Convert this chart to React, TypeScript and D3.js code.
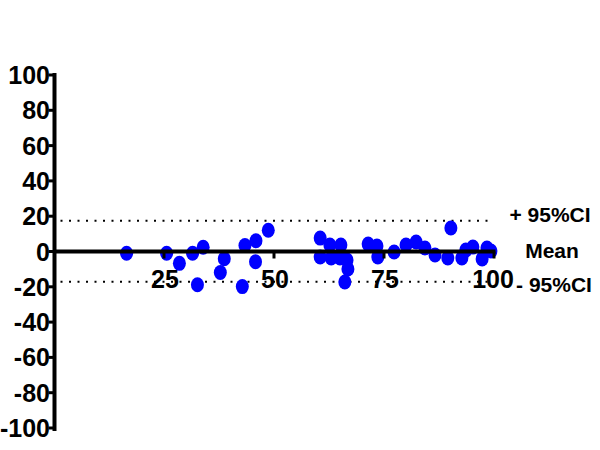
import React from 'react';
import * as d3 from 'd3';

// average of the two methods (x) and their difference (y)
const avgValues = [
  16.5, 25.6, 28.5, 31.5, 32.6, 33.9, 37.8, 38.7, 42.8, 43.4, 45.9, 45.8, 48.7,
  60.5, 60.5, 62.7, 63.0, 65.2, 65.0, 66.6, 66.8, 66.1,
  71.4, 73.4, 73.6, 77.3, 80.0, 82.3, 84.3, 86.6, 89.5, 90.2, 92.7, 93.6, 95.2, 97.3, 98.4, 99.3,
];
const diffValues = [
  -1.0, -1.0, -6.7, -1.0, -18.8, 2.4, -11.9, -4.1, -19.9, 3.4, 6.1, -5.8, 12.0,
  7.6, -3.1, 3.7, -3.7, 3.7, -3.7, -4.8, -9.9, -17.3,
  4.2, 3.1, -3.1, -0.3, 3.7, 5.4, 2.0, -2.0, -3.7, 13.3, -3.7, 0.8, 2.5, -4.2, 2.0, 0.3,
];
const xTicks = [25, 50, 75, 100];
const yTicks = [100, 80, 60, 40, 20, 0, -20, -40, -60, -80, -100];
const meanDiff = 0;
const upperCI = 17.4;
const lowerCI = -17.2;
const refLabels = ['+ 95%CI', 'Mean', '- 95%CI'];

const W = 600;
const H = 450;
const FONT = '"Liberation Sans", Arial, sans-serif';

export default function App() {
  const x = d3.scaleLinear().domain([0, 100]).range([54, 494]);
  const y = d3.scaleLinear().domain([-100, 100]).range([428, 75]);
  const axisX = 54.5;
  const points = avgValues.map((v, i) => ({ a: v, d: diffValues[i] }));

  return (
    <svg
      width={W}
      height={H}
      style={{ position: 'absolute', left: 0, top: 0, background: 'white' }}
      fontFamily={FONT}
      fontWeight="bold"
    >
      {/* CI dotted lines */}
      {[upperCI, lowerCI].map((v) => (
        <line
          key={v}
          x1={axisX + 6}
          x2={x(100)}
          y1={y(v)}
          y2={y(v)}
          stroke="black"
          strokeWidth={2}
          strokeDasharray="2 6.5"
        />
      ))}

      {/* points */}
      {points.map((p, i) => (
        <ellipse key={i} cx={x(p.a)} cy={y(p.d)} rx={6.5} ry={7.5} fill="#0000ff" />
      ))}

      {/* y axis */}
      <line x1={axisX} x2={axisX} y1={y(100) - 2} y2={y(-100) + 3} stroke="black" strokeWidth={4} />
      {yTicks.map((t) => (
        <g key={t}>
          <line x1={axisX - 6} x2={axisX} y1={y(t)} y2={y(t)} stroke="black" strokeWidth={3} />
          <text x={50} y={y(t)} dy="0.36em" textAnchor="end" fontSize={25}>
            {t}
          </text>
        </g>
      ))}

      {/* x axis along mean */}
      <line x1={axisX} x2={x(100) + 1.5} y1={y(meanDiff)} y2={y(meanDiff)} stroke="black" strokeWidth={4} />
      {xTicks.map((t) => (
        <g key={t}>
          <line x1={x(t)} x2={x(t)} y1={y(meanDiff)} y2={y(meanDiff) + 7} stroke="black" strokeWidth={3} />
          <text x={x(t) + (t === 100 ? -1 : 1)} y={288} textAnchor="middle" fontSize={25}>
            {t}
          </text>
        </g>
      ))}

      {/* reference labels */}
      <text x={550} y={y(upperCI) - 6} dy="0.36em" textAnchor="middle" fontSize={21}>
        {refLabels[0]}
      </text>
      <text x={552} y={y(meanDiff) - 1.5} dy="0.36em" textAnchor="middle" fontSize={21}>
        {refLabels[1]}
      </text>
      <text x={554} y={y(lowerCI) + 2.5} dy="0.36em" textAnchor="middle" fontSize={21}>
        {refLabels[2]}
      </text>
    </svg>
  );
}
